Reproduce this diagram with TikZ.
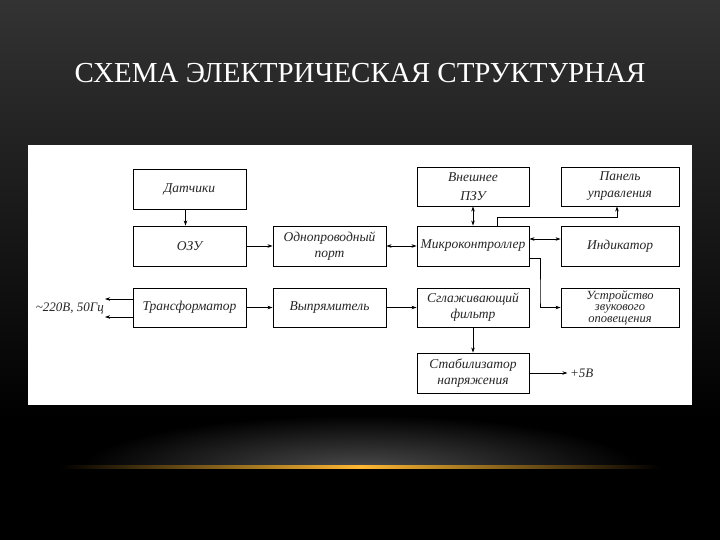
\documentclass[tikz,border=0pt]{standalone}
\usepackage{fontspec}
\setmainfont{Liberation Serif}
\usetikzlibrary{arrows.meta,calc}
\begin{document}
\begin{tikzpicture}[x=1pt,y=-1pt,
  blk/.style={draw=black,line width=0.9pt,fill=white,minimum width=113pt,minimum height=40pt,inner sep=1pt,align=center,font=\fontsize{13.5}{16}\selectfont\itshape,text=black!85},
  wblk/.style={blk,minimum width=118pt},
  con/.style={line width=0.7pt,draw=black},
  arr/.style={con,-{Stealth[length=5pt,width=3.5pt]}},
  darr/.style={con,{Stealth[length=5pt,width=3.5pt]}-{Stealth[length=5pt,width=3.5pt]}},
  lbl/.style={font=\fontsize{13}{14}\selectfont\itshape,text=black!85,inner sep=0pt}]
\useasboundingbox (0,0) rectangle (720,540);
% background
\fill[black] (0,0) rectangle (720,540);
\shade[top color=black!80!white, bottom color=black] (0,0) rectangle (720,420);
\begin{scope}
  \clip (0,400) rectangle (720,467);
  \shade[inner color=black!70!white, outer color=black] (360,470) ellipse [x radius=280, y radius=55];
\end{scope}
\shade[left color=black, right color=black, middle color=orange!70!yellow!80!white] (60,465.5) rectangle (660,468.5);
% title
\node[text=white,font=\fontsize{29}{29}\selectfont] (title) at (360,73) {СХЕМА ЭЛЕКТРИЧЕСКАЯ СТРУКТУРНАЯ};
% white panel
\fill[white] (28,145) rectangle (692,405);
% blocks
\node[blk] (dat) at (189.5,189) {Датчики};
\node[blk] (ozu) at (189.5,246) {ОЗУ};
\node[blk] (port) at (329.5,246) {Однопроводный\\порт};
\node[blk,minimum width=112pt,minimum height=39pt,font=\fontsize{13.5}{19}\selectfont\itshape] (pzu) at (473,186.5) {Внешнее\\ПЗУ};
\node[wblk,minimum height=39pt,font=\fontsize{13.5}{17}\selectfont\itshape] (pan) at (620,186.5) {Панель\\управления};
\node[blk,minimum width=112pt] (mk) at (473,246) {Микроконтроллер};
\node[wblk] (ind) at (620,246) {Индикатор};
\node[blk,minimum height=39pt] (tr) at (189.5,307.5) {Трансформатор};
\node[blk,minimum height=39pt] (vyp) at (329.5,307.5) {Выпрямитель};
\node[blk,minimum width=112pt,minimum height=39pt] (sgl) at (473,307.5) {Сглаживающий\\фильтр};
\node[wblk,minimum height=39pt,font=\fontsize{12.5}{11.5}\selectfont\itshape] (dev) at (620,307.5) {Устройство\\звукового\\оповещения};
\node[blk,minimum width=112pt] (stab) at (473,373) {Стабилизатор\\напряжения};
% labels
\node[lbl,anchor=east] (ac) at (104,308) {\textasciitilde220В, 50Гц};
\node[lbl,anchor=west] (p5) at (570,373) {+5В};
\coordinate (acA) at (105,299);
\coordinate (acB) at (105,317);
\coordinate (c1) at (497,217);
\coordinate (c2) at (540,300);
% connectors
\draw[arr] ([xshift=-4pt]dat.south) -- ([xshift=-4pt]ozu.north);
\draw[arr] (ozu.east) -- (port.west);
\draw[darr] (port.east) -- (mk.west);
\draw[darr] (pzu.south) -- (mk.north);
\draw[arr] ([xshift=24pt]mk.north) -- (c1) -| ([xshift=-3pt]pan.south);
\draw[darr] ([yshift=7pt]mk.east) -- ([yshift=7pt]ind.west);
\draw[arr] ([yshift=-12pt]mk.east) -| (c2) |- (dev.west);
\draw[arr] ([yshift=8.5pt]tr.west) -- (acA);
\draw[arr] ([yshift=-9.5pt]tr.west) -- (acB);
\draw[arr] (tr.east) -- (vyp.west);
\draw[arr] (vyp.east) -- (sgl.west);
\draw[arr] (sgl.south) -- (stab.north);
\draw[arr] (stab.east) -- ++(38,0) coordinate (p5tip);
\end{tikzpicture}
\end{document}
